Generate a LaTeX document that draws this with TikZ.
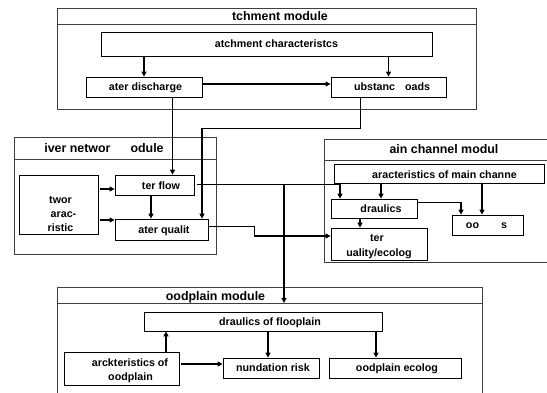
\documentclass[tikz,border=0pt]{standalone}
\usepackage{fontspec}
\setmainfont{Liberation Sans}
\usetikzlibrary{arrows.meta}
\begin{document}
\begin{tikzpicture}[x=1pt,y=-1pt,
  box/.style={draw, line width=0.8pt, inner sep=0pt},
  txt/.style={inner sep=0pt, font=\fontsize{10.7}{12.5}\selectfont\bfseries, text height=0.72em, text depth=0pt},
  ttl/.style={inner sep=0pt, font=\fontsize{12.4}{14}\selectfont\bfseries, text height=0.72em, text depth=0pt},
  modl/.style={draw=black!75, line width=1pt},
  arr/.style={line width=1.5pt, -{Triangle[length=5pt,width=5pt]}},
  thinl/.style={line width=0.8pt}]
\useasboundingbox[fill=white] (0,0) rectangle (547,392);

% modules
\draw[modl] (57,8) rectangle (476,109); \draw[modl] (57,24) -- (476,24);
\draw[modl] (14,137) rectangle (216,254); \draw[modl] (14,159) -- (216,159);
\draw[modl] (324,139) rectangle (560,262); \draw[modl] (324,160) -- (560,160);
\draw[modl] (57,287) rectangle (482,400); \draw[modl] (57,303) -- (482,303);
\node[ttl] (ttl-c) at (280,17) {tchment module};
\node[ttl] (ttl-r) at (104,149) {iver networ\hspace{20pt}odule};
\node[ttl] (ttl-m) at (444,150) {ain channel modul};
\node[ttl] (ttl-f) at (215.5,297) {oodplain module};

% boxes
\node[box, minimum width=331pt, minimum height=24pt] (cchar) at (266.5,44) {};
\node[box, minimum width=116pt, minimum height=20pt] (disch) at (144,87) {};
\node[box, minimum width=115pt, minimum height=20pt] (subst) at (388.5,87) {};
\node[box, minimum width=79pt, minimum height=59pt] (netchar) at (58.5,204.5) {};
\node[box, minimum width=79pt, minimum height=20pt] (terflow) at (154.5,185) {};
\node[box, minimum width=93pt, minimum height=21pt] (waterq) at (161.5,229.5) {};
\node[box, minimum width=210pt, minimum height=19pt] (mchar) at (439,173.5) {};
\node[box, minimum width=86pt, minimum height=19pt] (hydr) at (374,208.5) {};
\node[box, minimum width=71pt, minimum height=20pt] (floods) at (487.5,225) {};
\node[box, minimum width=96pt, minimum height=32pt] (wqe) at (379,244) {};
\node[box, minimum width=238pt, minimum height=19pt] (fhydr) at (263,321.5) {};
\node[box, minimum width=115pt, minimum height=33pt] (fchar) at (121.5,368.5) {};
\node[box, minimum width=96pt, minimum height=20pt] (inund) at (271,368) {};
\node[box, minimum width=132pt, minimum height=20pt] (fecol) at (395,368) {};

% texts
\node[txt] (t-cchar) at (276.5,44) {atchment characteristcs};
\node[txt] (t-disch) at (145.5,87) {ater discharge};
\node[txt] (t-subst) at (392,87) {ubstanc\hspace{10pt}oads};
\node[txt] (t-net1) at (60.5,200) {twor};
\node[txt] (t-net2) at (63.5,213.5) {arac-};
\node[txt] (t-net3) at (60.5,228) {ristic};
\node[txt] (t-terflow) at (161,186) {ter flow};
\node[txt] (t-waterq) at (164,230) {ater qualit};
\node[txt] (t-mchar) at (444.5,175) {aracteristics of main channe};
\node[txt] (t-hydr) at (381,209) {draulics};
\node[txt] (t-floods) at (486.5,224.5) {oo\hspace{22pt}s};
\node[txt] (t-wqe1) at (377,238) {ter};
\node[txt] (t-wqe2) at (379,253) {uality/ecolog};
\node[txt] (t-fhydr) at (270,321.5) {draulics of flooplain};
\node[txt] (t-fchar1) at (130,363) {arckteristics of};
\node[txt] (t-fchar2) at (130.5,376.5) {oodplain};
\node[txt] (t-inund) at (273,368) {nundation risk};
\node[txt] (t-fecol) at (397,368) {oodplain ecolog};

% connector points
\coordinate (d1) at (202,84);
\coordinate (d2) at (172.5,97);
\coordinate (s1) at (360,97);
\coordinate (s2) at (202,128);
\coordinate (n1) at (100,189);
\coordinate (n2) at (100,220);
\coordinate (t1) at (151,195);
\coordinate (t2) at (197,184);
\coordinate (t3) at (340,184);
\coordinate (t4) at (284,184);
\coordinate (fpd) at (57,303);
\coordinate (w1) at (208,226);
\coordinate (w2) at (254,236);
\coordinate (m1) at (381,183.5);
\coordinate (m2) at (482,183.5);
\coordinate (h1) at (417,202);
\coordinate (h2) at (461,202);
\coordinate (h3) at (360,218);
\coordinate (f1) at (166,352);
\coordinate (f2) at (181,364);
\coordinate (f3) at (268,331);
\coordinate (f4) at (376,331);

% connectors
\draw[arr] (cchar.south -| disch.north) -- (disch.north);
\draw[arr] (cchar.south -| subst.north) -- (subst.north);
\draw[arr] (d1) -- (d1 -| subst.west);
\draw[arr] (d2) -- (d2 |- terflow.north);
\draw[thinl] (s1) |- (s2);
\draw[arr] (s2) -- (s2 |- waterq.north);
\draw[arr] (n1) -- (n1 -| terflow.west);
\draw[arr] (n2) -- (n2 -| waterq.west);
\draw[arr] (t1) -- (t1 |- waterq.north);
\draw[thinl] (t2) -- (t3);
\draw[arr] (mchar.south -| t3) -- (t3 |- hydr.north);
\draw[arr] (t4) -- (t4 |- fpd);
\draw[thinl] (w1) -| (w2);
\draw[arr] (w2) -- (w2 -| wqe.west);
\draw[arr] (m1) -- (m1 |- hydr.north);
\draw[arr] (m2) -- (m2 |- floods.north);
\draw[thinl] (h1) -- (h2);
\draw[arr] (h2) -- (h2 |- floods.north);
\draw[arr] (h3) -- (h3 |- wqe.north);
\draw[arr] (f1) -- (f1 |- fhydr.south);
\draw[arr] (f2) -- (f2 -| inund.west);
\draw[arr] (f3) -- (f3 |- inund.north);
\draw[arr] (f4) -- (f4 |- fecol.north);
\end{tikzpicture}
\end{document}
